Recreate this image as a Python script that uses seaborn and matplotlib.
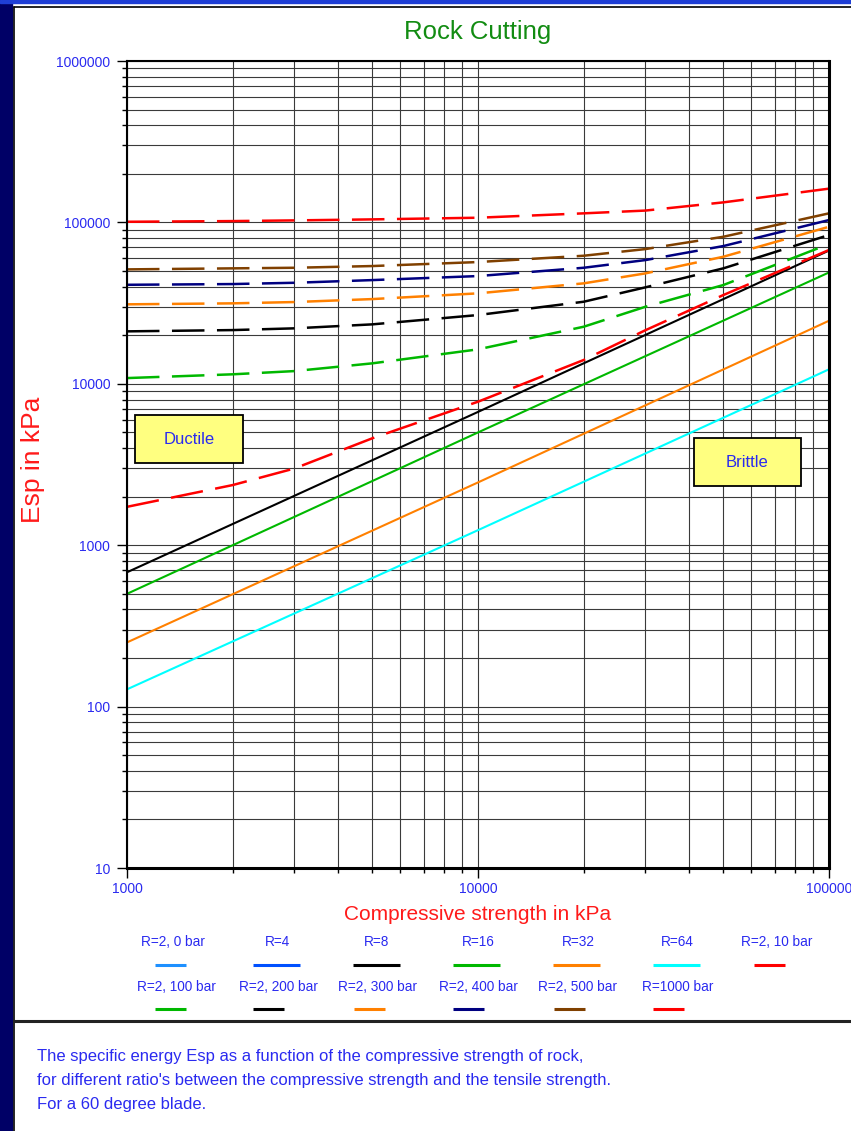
import pandas as pd
import seaborn as sns
import matplotlib
matplotlib.use('Agg')
import matplotlib.pyplot as plt
from matplotlib.lines import Line2D
from matplotlib.patches import Rectangle
from matplotlib.ticker import FixedLocator, FuncFormatter, NullFormatter

sns.set_theme(style="white")
plt.rcParams['font.family'] = ['Liberation Sans', 'DejaVu Sans']

# values (kPa)
x_solid = [1000, 10000, 100000]
r8 = [680, 6700, 67000]
r16 = [500, 5000, 49000]
r32 = [250, 2450, 24600]
r64 = [128, 1240, 12300]

x_dash = [1000, 2000, 3000, 5000, 10000, 20000, 30000, 50000, 100000]
bar_10 = [1730, 2360, 2990, 4600, 7750, 14050, 21500, 35500, 67500]
bar_100 = [10860, 11460, 12000, 13400, 16360, 22590, 30040, 40950, 73500]
bar_200 = [21150, 21540, 22080, 23370, 26690, 32270, 39630, 51960, 83600]
bar_300 = [31100, 31540, 32130, 33520, 36370, 41950, 48370, 61320, 94000]
bar_400 = [41100, 41530, 42300, 43950, 46550, 52400, 58480, 71420, 103500]
bar_500 = [51200, 51960, 52400, 53700, 56850, 62200, 68420, 81550, 113900]
bar_1000 = [101000, 102000, 103000, 104500, 107000, 113900, 118500, 133200, 162000]

legend_row1 = ['R=2, 0 bar', 'R=4', 'R=8', 'R=16', 'R=32', 'R=64', 'R=2, 10 bar']
legend_row2 = ['R=2, 100 bar', 'R=2, 200 bar', 'R=2, 300 bar', 'R=2, 400 bar', 'R=2, 500 bar', 'R=1000 bar']

c_lblue = '#1e90ff'
c_blue = '#0050ff'
c_green = '#00b800'
c_orange = '#ff8000'
c_cyan = '#00ffff'
c_red = '#ff0000'
c_navy = '#000080'
c_brown = '#804000'
tick_blue = '#2a2af0'
dash = (0, (13, 5))

fig = plt.figure(figsize=(8.51, 11.31), dpi=100)
ax = fig.add_axes([0.1492, 0.2325, 0.8249, 0.7135])

solid = [(r8, 'black'), (r16, c_green), (r32, c_orange), (r64, c_cyan)]
for vals, col in solid:
    df = pd.DataFrame({'x': x_solid, 'y': vals})
    sns.lineplot(x='x', y='y', data=df, ax=ax, color=col, lw=1.5, estimator=None, legend=False)

dashed = [(bar_10, c_red), (bar_100, c_green), (bar_200, 'black'), (bar_300, c_orange),
          (bar_400, c_navy), (bar_500, c_brown), (bar_1000, c_red)]
for vals, col in dashed:
    df = pd.DataFrame({'x': x_dash, 'y': vals})
    sns.lineplot(x='x', y='y', data=df, ax=ax, color=col, lw=1.8, linestyle=dash,
                 estimator=None, legend=False)

ax.set_xscale('log')
ax.set_yscale('log')
ax.set_xlim(1000, 100000)
ax.set_ylim(10, 1000000)
ax.set_xlabel('')
ax.set_ylabel('')
ax.xaxis.set_major_locator(FixedLocator([1000, 10000, 100000]))
ax.yaxis.set_major_locator(FixedLocator([10, 100, 1000, 10000, 100000, 1000000]))
minors = [m * 10 ** e for e in range(1, 6) for m in range(2, 10)]
ax.xaxis.set_minor_locator(FixedLocator([v for v in minors if 1000 < v < 100000]))
ax.yaxis.set_minor_locator(FixedLocator(minors))
fmt = FuncFormatter(lambda v, p: f'{v:.0f}')
ax.xaxis.set_major_formatter(fmt)
ax.yaxis.set_major_formatter(fmt)
ax.xaxis.set_minor_formatter(NullFormatter())
ax.yaxis.set_minor_formatter(NullFormatter())

ax.grid(True, which='both', color='#3a3a3a', lw=0.8)
ax.tick_params(axis='both', which='both', bottom=True, left=True, direction='out',
               color='black', labelcolor=tick_blue, labelsize=10)
ax.tick_params(axis='both', which='major', length=7, width=1)
ax.tick_params(axis='both', which='minor', length=3.5, width=1)
ax.tick_params(axis='y', which='major', pad=5)
ax.tick_params(axis='x', which='major', pad=3)
for s in ['left', 'top']:
    ax.spines[s].set_color('black')
    ax.spines[s].set_linewidth(1.5)
for s in ['bottom', 'right']:
    ax.spines[s].set_color('black')
    ax.spines[s].set_linewidth(2.2)

# Ductile / Brittle boxes
for x0, y0, w, h, txt in [(0.0114, 0.5019, 0.1538, 0.0595, 'Ductile'),
                          (0.8077, 0.4734, 0.1524, 0.0594, 'Brittle')]:
    ax.add_patch(Rectangle((x0, y0), w, h, transform=ax.transAxes, facecolor='#ffff80',
                           edgecolor='black', lw=1.3, zorder=5))
    ax.text(x0 + w / 2, y0 + h / 2, txt, transform=ax.transAxes, ha='center', va='center',
            color=tick_blue, fontsize=12, zorder=6)

W, H = 851.0, 1131.0

# frame
fig.add_artist(Rectangle((0, 0), 12 / W, 1, transform=fig.transFigure, color='#000066', zorder=0))
fig.add_artist(Rectangle((0, 1 - 3 / H), 1, 3 / H, transform=fig.transFigure, color='#1f3fd6', zorder=1))
fig.add_artist(Line2D([14 / W, 14 / W], [0, 1 - 7 / H], transform=fig.transFigure, color='black', lw=1.2))
fig.add_artist(Line2D([14 / W, 1], [1 - 7 / H, 1 - 7 / H], transform=fig.transFigure, color='black', lw=1.2))
fig.add_artist(Line2D([14 / W, 1], [1 - 1021 / H, 1 - 1021 / H], transform=fig.transFigure, color='#222222', lw=2.2))

fig.text(478 / W, 1 - 32 / H, 'Rock Cutting', color='#128c12', fontsize=18.5, ha='center', va='center')
fig.text(478 / W, 1 - 915 / H, 'Compressive strength in kPa', color='#ff1a1a', fontsize=15, ha='center', va='center')
fig.text(33 / W, 1 - 460 / H, 'Esp in kPa', color='#ff1a1a', fontsize=19, rotation=90, ha='center', va='center')

# legend: label above, short line below
row1_cols = [c_lblue, c_blue, 'black', c_green, c_orange, c_cyan, c_red]
row1_lines = [(155, 31), (253, 47), (353, 47), (453, 47), (553, 47), (653, 47), (754, 31)]
row2_cols = [c_green, 'black', c_orange, c_navy, c_brown, c_red]
row2_lines = [(155, 31), (253, 31), (354, 31), (453, 31), (554, 31), (653, 31)]
centers1 = [173, 277, 377, 478, 578, 677, 777]
centers2 = [176, 278, 378, 478, 578, 678]
for i, lab in enumerate(legend_row1):
    fig.text(centers1[i] / W, 1 - 942 / H, lab, color=tick_blue, fontsize=9.8, ha='center', va='center')
    x0, ln = row1_lines[i]
    fig.add_artist(Line2D([x0 / W, (x0 + ln) / W], [1 - 965 / H] * 2, transform=fig.transFigure,
                          color=row1_cols[i], lw=2.2, solid_capstyle='butt'))
for i, lab in enumerate(legend_row2):
    fig.text(centers2[i] / W, 1 - 987 / H, lab, color=tick_blue, fontsize=9.8, ha='center', va='center')
    x0, ln = row2_lines[i]
    fig.add_artist(Line2D([x0 / W, (x0 + ln) / W], [1 - 1009 / H] * 2, transform=fig.transFigure,
                          color=row2_cols[i], lw=2.2, solid_capstyle='butt'))

caption = ["The specific energy Esp as a function of the compressive strength of rock,",
           "for different ratio's between the compressive strength and the tensile strength.",
           "For a 60 degree blade."]
for i, line in enumerate(caption):
    fig.text(37 / W, 1 - (1056 + 24.5 * i) / H, line, color=tick_blue, fontsize=12, ha='left', va='center')

fig.savefig('out.png', dpi=100)
